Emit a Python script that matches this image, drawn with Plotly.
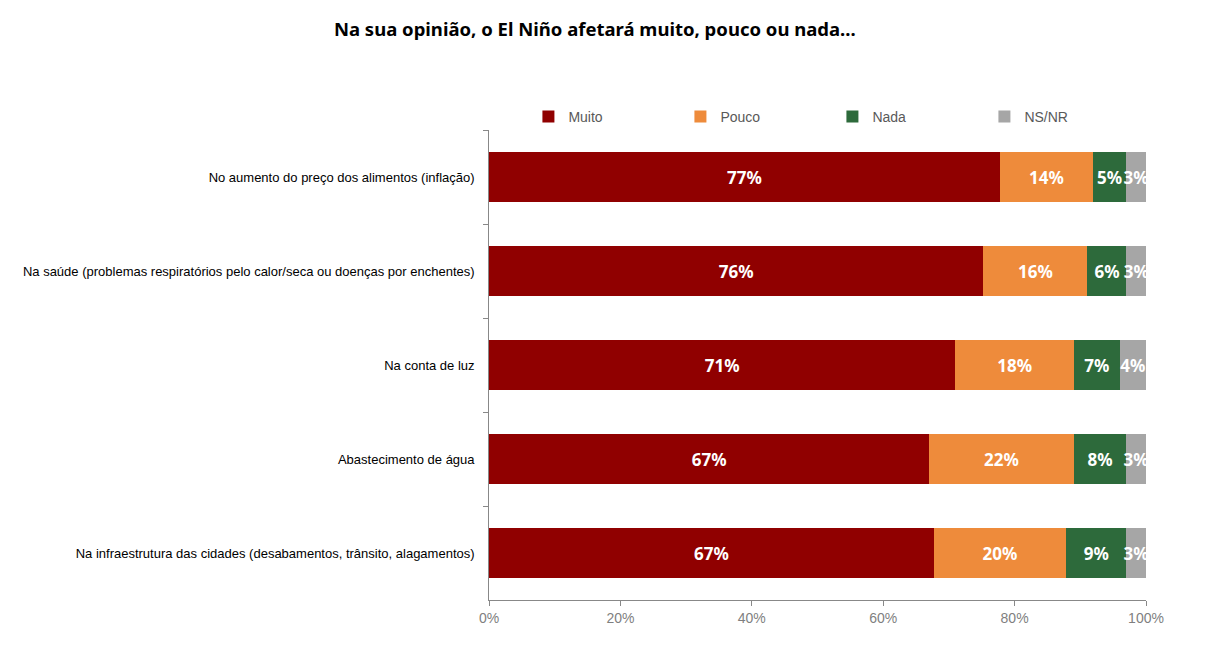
import plotly.graph_objects as go

categories = [
    "No aumento do preço dos alimentos (inflação)",
    "Na saúde (problemas respiratórios pelo calor/seca ou doenças por enchentes)",
    "Na conta de luz",
    "Abastecimento de água",
    "Na infraestrutura das cidades (desabamentos, trânsito, alagamentos)",
]
series_names = ["Muito", "Pouco", "Nada", "NS/NR"]
muito = [77, 76, 71, 67, 67]
pouco = [14, 16, 18, 22, 20]
nada = [5, 6, 7, 8, 9]
nsnr = [3, 3, 4, 3, 3]
colors = ["#900000", "#EE8B3B", "#2D6A3B", "#A6A6A6"]
x_ticks = [0, 20, 40, 60, 80, 100]
x_ticklabels = ["0%", "20%", "40%", "60%", "80%", "100%"]

fig = go.Figure()
for name, vals, col in zip(series_names, [muito, pouco, nada, nsnr], colors):
    fig.add_trace(go.Bar(
        name=name, y=categories, x=vals, orientation="h",
        marker=dict(color=col, line=dict(width=0)),
        text=[f"{v}%" for v in vals], textposition="inside",
        insidetextanchor="middle", textangle=0,
        textfont=dict(color="white", size=17, family="Noto Sans"),
        texttemplate="<b>%{text}</b>",
        cliponaxis=False,
    ))

fig.update_layout(
    barmode="stack", barnorm="percent", bargap=0.473,
    width=1205, height=655,
    margin=dict(l=481, r=67, t=122, b=63),
    paper_bgcolor="white", plot_bgcolor="white",
    font=dict(family="Liberation Sans", size=13, color="black"),
    uniformtext=dict(minsize=17, mode="show"),
    title=dict(text="<b>Na sua opinião, o El Niño afetará muito, pouco ou nada...</b>",
               x=0.487, xanchor="center", y=0.967, yanchor="middle",
               font=dict(family="Noto Sans", size=18.5, color="black")),
    legend=dict(orientation="h", x=0.06, xanchor="left", y=1.028, yanchor="middle",
                entrywidth=107, entrywidthmode="pixels", itemwidth=30,
                font=dict(family="Liberation Sans", size=14, color="#595959"),
                traceorder="normal"),
    showlegend=True,
)
fig.update_xaxes(range=[0, 100], tickvals=x_ticks, ticktext=x_ticklabels,
                 showgrid=False, zeroline=False, showline=True, linecolor="#888888",
                 ticks="outside", ticklen=5, tickcolor="#888888",
                 tickfont=dict(family="Liberation Sans", size=14, color="#7F7F7F"))
fig.update_yaxes(autorange="reversed", showgrid=False, showline=True, linecolor="#888888",
                 ticks="outside", ticklen=5, tickcolor="#888888", tickson="boundaries",
                 ticksuffix="   ",
                 tickfont=dict(family="Liberation Sans", size=13, color="black"))

fig.write_html("out.html")
